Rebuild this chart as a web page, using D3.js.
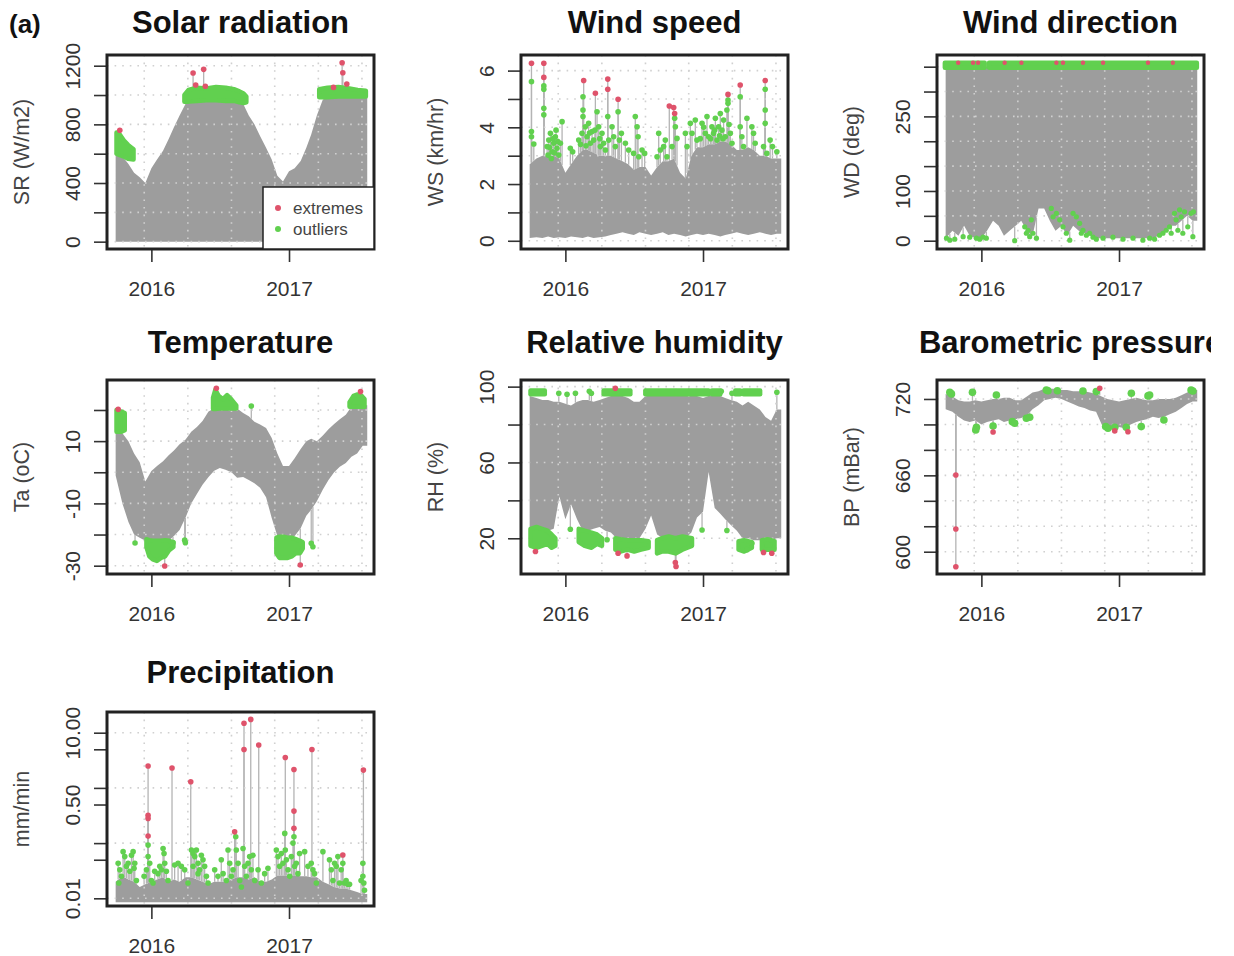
<!DOCTYPE html>
<html>
<head>
<meta charset="utf-8">
<script src="https://cdn.jsdelivr.net/npm/d3@7"></script>
<style>
body { margin: 0; background: #fff; }
text { font-family: "Liberation Sans", Arial, sans-serif; }
</style>
</head>
<body>
<script>
// ---- data ----
// half-month bins, last entry closes the series
var binDates = ["2015-09-28","2015-10-16","2015-11-01","2015-11-16","2015-12-01","2015-12-16","2016-01-01","2016-01-16","2016-02-01","2016-02-16",
  "2016-03-01","2016-03-16","2016-04-01","2016-04-16","2016-05-01","2016-05-16","2016-06-01","2016-06-16","2016-07-01","2016-07-16",
  "2016-08-01","2016-08-16","2016-09-01","2016-09-16","2016-10-01","2016-10-16","2016-11-01","2016-11-16","2016-12-01","2016-12-16",
  "2017-01-01","2017-01-16","2017-02-01","2017-02-16","2017-03-01","2017-03-16","2017-04-01","2017-04-16","2017-05-01","2017-05-16",
  "2017-06-01","2017-06-16","2017-07-01","2017-07-16","2017-07-28"];
var yearTicks = ["2016-01-01", "2017-01-01"];
var gridDates = ["2015-12-13", "2016-04-07", "2016-08-01", "2016-11-24", "2017-03-20", "2017-07-14"];

// solar radiation
var srLow = [0,0,0,0,0,0,0,0,0,0, 0,0,0,0,0,0,0,0,0,0, 0,0,0,0,0,0,0,0,0,0, 0,0,0,0,0,0,0,0,0,0, 0,0,0,0,0];
var srHigh = [620,580,530,470,440,400,500,560,620,700, 780,860,940,960,965,970,970,975,970,965,
  965,955,940,860,800,720,640,560,450,410, 480,500,550,640,730,860,970,985,990,995, 995,995,995,995,995];
var srGreen = [
  [[2015.746,600,745],[2015.77,590,730],[2015.80,580,690],[2015.83,565,660],[2015.87,560,630]],
  [[2016.24,955,1000],[2016.27,955,1035],[2016.33,960,1050],[2016.40,965,1045],[2016.47,965,1055],[2016.54,960,1050],[2016.60,960,1040],[2016.64,950,1025],[2016.67,945,1010],[2016.69,950,990]],
  [[2017.22,985,1040],[2017.28,985,1050],[2017.36,990,1055],[2017.44,990,1045],[2017.50,990,1035],[2017.56,990,1030]]
];
var srOutliers = [];
var srExtremes = [[2015.770,760],[2016.303,1150],[2016.322,1068],[2016.380,1175],[2016.392,1060],[2017.324,1052],[2017.387,1220],[2017.392,1152],[2017.421,1075]];
var srTicks = [0,200,400,600,800,1000,1200];
var srLabels = [0,400,800,1200];

// wind speed
var wsLow = [0.1,0.12,0.1,0.15,0.1,0.12,0.1,0.15,0.12,0.1, 0.15,0.1,0.12,0.15,0.2,0.25,0.3,0.25,0.2,0.3,
  0.25,0.2,0.25,0.3,0.2,0.25,0.2,0.15,0.2,0.25, 0.2,0.25,0.2,0.15,0.2,0.25,0.3,0.25,0.2,0.25, 0.3,0.25,0.2,0.25,0.25];
var wsHigh = [2.7,2.9,3.0,3.0,3.0,2.9,2.4,2.7,3.0,3.2, 3.2,3.1,3.0,3.0,3.0,2.9,2.8,2.7,2.5,2.6,
  2.6,2.3,2.6,2.8,2.8,2.9,2.4,2.2,3.0,3.3, 3.3,3.4,3.4,3.5,3.5,3.4,3.2,3.2,3.3,3.2, 3.0,3.0,2.9,2.9,2.9];
var wsGreen = [];
var wsOutliers = [[2015.753,5.61],[2015.753,3.85],[2015.753,3.67],[2015.770,3.41],
  [2015.843,5.46],[2015.843,5.34],[2015.843,4.67],[2015.843,4.44],
  [2015.867,3.32],[2015.874,3.02],[2015.879,3.55],[2015.891,3.79],[2015.898,2.9],[2015.903,3.14],[2015.915,3.44],[2015.927,3.67],[2015.932,3.9],[2015.939,3.26],[2015.952,3.02],[2015.964,3.44],[2015.976,4.2],
  [2015.885,3.3],[2015.910,3.6],[2015.945,3.5],[2015.920,3.1],
  [2016.036,3.26],[2016.053,3.14],
  [2016.097,3.55],[2016.121,3.79],[2016.128,5.08],[2016.128,4.61],[2016.128,4.38],[2016.145,4.02],[2016.157,3.67],[2016.169,4.14],[2016.182,3.44],[2016.194,3.85],[2016.206,3.55],[2016.230,4.55],[2016.242,4.02],[2016.254,3.32],[2016.266,3.79],[2016.278,3.44],[2016.291,3.2],
  [2016.110,3.4],[2016.150,3.35],[2016.175,3.8],[2016.215,3.9],[2016.250,3.6],
  [2016.308,4.38],[2016.315,3.55],[2016.339,4.02],[2016.351,3.67],[2016.363,3.32],
  [2016.383,4.55],[2016.392,3.55],[2016.407,3.79],
  [2016.436,3.44],[2016.460,3.2],
  [2016.496,3.08],[2016.508,4.38],[2016.521,4.02],[2016.528,3.67],[2016.533,2.96],[2016.557,3.2],[2016.576,3.08],
  [2016.666,2.96],[2016.678,3.79],[2016.690,3.2],[2016.714,3.32],[2016.726,3.55],[2016.738,2.96],
  [2016.775,3.32],[2016.794,4.32],[2016.799,4.02],[2016.811,3.61],
  [2016.872,3.79],[2016.884,3.32],[2016.908,4.14],[2016.920,3.79],[2016.944,4.26],[2016.956,3.55],
  [2016.993,4.14],[2017.017,3.79],[2017.029,4.38],[2017.041,3.67],[2017.065,4.02],[2017.077,3.79],[2017.090,4.32],[2017.102,3.55],[2017.114,4.02],[2017.126,4.49],[2017.138,3.9],[2017.150,4.26],[2017.162,3.67],[2017.174,4.61],[2017.182,4.96],[2017.182,4.85],[2017.199,3.79],[2017.211,3.44],
  [2016.98,3.6],[2017.005,4.0],[2017.055,3.6],[2017.085,3.9],[2017.12,3.7],[2017.145,3.6],[2017.19,4.1],
  [2017.271,5.08],[2017.271,4.02],[2017.283,3.67],[2017.295,3.32],
  [2017.320,4.32],[2017.356,4.02],[2017.368,3.79],[2017.380,3.44],
  [2017.441,3.32],[2017.453,5.34],[2017.453,4.61],[2017.453,4.14],[2017.465,3.08],
  [2017.489,3.55],[2017.506,3.32],[2017.538,3.14]];
var wsExtremes = [[2015.753,6.26],[2015.843,6.26],[2015.843,5.76],[2016.133,5.65],[2016.218,5.2],[2016.308,5.7],[2016.308,5.34],[2016.383,4.99],
  [2016.755,4.75],[2016.787,4.7],[2016.794,4.49],[2017.182,5.16],[2017.271,5.49],[2017.453,5.65]];
var wsTicks = [0,1,2,3,4,5,6];
var wsLabels = [0,2,4,6];

// wind direction
var wdLow = [5,20,10,30,10,5,5,20,40,30, 10,20,30,40,20,10,65,65,40,20, 30,10,30,20,15,10,5,5,5,5, 5,5,5,5,5,5,5,10,20,30, 30,40,50,40,40];
var wdHigh = [350,350,350,350,350,350,350,350,350,350, 350,350,350,350,350,350,350,350,350,350,
  350,350,350,350,350,350,350,350,350,350, 350,350,350,350,350,350,350,350,350,350, 350,350,350,350,350];
var wdGreen = [
  [[2015.734,348,358],[2016.024,348,358]],
  [[2016.056,348,358],[2017.567,348,358]]
];
var wdOutliers = [[2015.746,5],[2015.770,1],[2015.806,3],[2015.867,8],[2015.915,7],[2015.964,5],[2015.988,3],[2016.012,7],[2016.036,5],
  [2016.242,0],[2016.315,28],[2016.327,15],[2016.339,21],[2016.351,8],[2016.363,42],[2016.375,15],[2016.400,5],
  [2016.508,65],[2016.521,48],[2016.545,55],[2016.569,42],[2016.593,28],[2016.617,15],[2016.642,1],[2016.666,55],[2016.690,48],[2016.714,35],
  [2016.726,15],[2016.738,21],[2016.763,11],[2016.787,15],[2016.811,7],[2016.835,3],
  [2016.884,5],[2016.956,7],[2017.029,3],[2017.102,5],[2017.174,1],[2017.223,5],[2017.259,3],[2017.295,11],[2017.320,15],[2017.344,21],[2017.368,28],[2017.380,15],
  [2017.404,55],[2017.416,42],[2017.429,21],[2017.441,62],[2017.453,48],[2017.465,15],[2017.477,58],[2017.501,28],[2017.525,55],[2017.542,58],[2017.538,8]];
var wdExtremes = [[2015.831,358],[2015.939,358],[2015.976,358],[2016.169,358],[2016.291,358],[2016.545,358],[2016.593,358],[2016.738,358],[2016.884,358],[2017.211,358],[2017.392,358]];
var wdTicks = [0,50,100,150,200,250,300,350];
var wdLabels = [0,100,250];

// temperature
var taLow = [-1,-10,-16,-20,-21,-22,-22,-22,-22,-22, -20.5,-18.5,-14.5,-10,-7,-4,-1.5,0.5,1.4,0.8,
  0,-1.8,-1.5,-2.5,-3.5,-5,-8,-14.7,-20.5,-21, -21,-20.5,-18,-14,-12,-9.3,-5.5,-2.5,0,1.8, 3,5,6,8.5,8.5];
var taHigh = [13.7,12.5,10,6,3.2,-3,0.4,2,3.5,5.5, 7,9,10.5,13,14.5,16.5,19.5,20.5,20.5,20.5,
  20.5,20.5,19,18,16.2,15.3,14.2,11,6,2, 2,4.5,7.5,10,10.8,10,11.8,13.8,15.5,17, 18.5,21,21.5,21.5,21.5];
var taGreen = [
  [[2015.746,13,20],[2015.782,13,19.5],[2015.806,13.5,19]],
  [[2015.964,-24,-21.5],[2015.985,-27,-21.8],[2016.01,-28,-22],[2016.04,-28.5,-22],[2016.07,-27.5,-22],[2016.10,-27,-21.8],[2016.13,-25,-22],[2016.16,-24,-22.5]],
  [[2016.448,20.3,24],[2016.465,20.3,26.5],[2016.49,20.5,24.5],[2016.52,20.5,23.5],[2016.55,20.5,24.8],[2016.58,20.5,23.5],[2016.617,20.5,21.5]],
  [[2016.908,-26,-21],[2016.93,-27.5,-20.7],[2016.96,-27.5,-20.7],[2016.99,-27.5,-21],[2017.02,-27,-21],[2017.05,-26,-21.5],[2017.08,-26,-22],[2017.10,-24.5,-22.5]],
  [[2017.441,21,22.5],[2017.47,21,24.5],[2017.50,21,25],[2017.53,21,24.5],[2017.55,21,23.5]]
];
var taOutliers = [[2015.881,-22.7],[2016.157,-22.6],[2016.242,-21.8],[2016.247,-22.6],[2016.726,21.3],[2017.162,-22.8],[2017.174,-23.9]];
var taExtremes = [[2015.758,20.2],[2016.472,27],[2016.097,-30.1],[2017.082,-29.8],[2017.521,25.9]];
var taTicks = [-30,-20,-10,0,10,20];
var taLabels = [-30,-10,10];

// relative humidity
var rhLow = [25,23,24,24,25,42,30,38,30,24, 24,25,26,24,23,20,19,19,20,20, 25,32,22,20,19,19,20,20,23,31,
  34,55,36,33,30,27,24,20,20,19, 19,19,19,20,20];
var rhHigh = [95,94,93,93,92,92,91,90,92,93, 93,92,93,94,95,95,95,94,92,92, 95,95,96,96,96,96,96,96,96,95,
  94,95,95,95,94,93,92,90,92,90, 88,84,82,88,88];
var rhGreen = [
  [[2015.746,96,98],[2015.850,96,98]],
  [[2016.278,96,98],[2016.472,96,98]],
  [[2016.581,96,98],[2016.799,96,98]],
  [[2016.811,96,98],[2017.041,96,98]],
  [[2017.065,96,98],[2017.126,96,98]],
  [[2017.235,96,98],[2017.271,96,98]],
  [[2017.295,96,98],[2017.416,96,98]],
  [[2015.746,16,25],[2015.79,15,26],[2015.83,16,25],[2015.87,17,24],[2015.90,15,22],[2015.927,16,20]],
  [[2016.097,18,25],[2016.14,16,24],[2016.19,15,23],[2016.23,17,22],[2016.266,16,20]],
  [[2016.363,14,20],[2016.40,13,19.5],[2016.45,14,19],[2016.50,13,19],[2016.55,14,19],[2016.605,15,18.5]],
  [[2016.666,12,19],[2016.70,13,20],[2016.75,13,21],[2016.80,12,20],[2016.85,14,21],[2016.92,16,20]],
  [[2017.259,14,18.5],[2017.30,13,19],[2017.356,15,18]],
  [[2017.429,14,19],[2017.47,14,19.5],[2017.521,14,18.5]]
];
var rhOutliers = [[2015.952,96.5],[2016.012,96],[2016.073,96.5],[2016.174,97.5],[2016.189,96.5],[2017.538,97],[2017.133,97.5],[2017.211,96.5],
  [2016.036,24.8],[2016.303,19.2],[2016.993,24.4],[2017.174,24.1],[2017.356,17.4],[2017.320,14]];
var rhExtremes = [[2016.363,99.1],[2015.782,13],[2016.383,12.1],[2016.448,10.7],[2016.799,7.2],[2016.804,5.1],[2017.441,12.5],[2017.501,12.1]];
var rhTicks = [20,40,60,80,100];
var rhLabels = [20,60,100];

// barometric pressure
var bpLow = [712,710,706,703,702,703,700,702,703,704, 702,703,704,705,707,712,715,719,720,721,
  720,718,716,714,713,711,710,700,697,696, 698,697,700,702,703,704,706,705,706,708, 710,713,716,718,718];
var bpHigh = [724,722,719,718,718,719,718,719,720,720, 721,721,719,719,722,725,726,728,728,728,
  727,727,726,726,726,725,724,722,720,719, 718,719,720,721,720,719,719,720,720,720, 721,723,725,727,727];
var bpGreen = [];
var bpOutliers = [[2015.770,725.2],[2015.782,724],[2015.935,725.2],[2016.109,723.1],[2015.964,697.7],[2015.959,695.6],[2016.085,698.8],
  [2016.225,702.2],[2016.242,700.9],[2016.327,704.8],[2016.351,705.6],[2016.472,727.1],[2016.484,726.5],[2016.552,726.5],[2016.738,726.3],
  [2016.835,725.8],[2016.903,698.3],[2016.920,697],[2016.969,697.7],[2017.053,697.7],[2017.090,724.5],[2017.162,698.3],[2017.211,722.4],
  [2017.223,723.1],[2017.327,703.5],[2017.525,727.1],[2017.538,726.3]];
var bpExtremes = [[2016.085,694.1],[2016.860,728.4],[2016.969,694.9],[2017.065,694.3],[2015.814,660.3],[2015.814,617.8],[2015.814,588.2]];
var bpTicks = [600,620,640,660,680,700,720];
var bpLabels = [600,660,720];

// precipitation
var pLow = [0.0085,0.0085,0.0085,0.0085,0.0085,0.0085,0.0085,0.0085,0.0085,0.0085, 0.0085,0.0085,0.0085,0.0085,0.0085,0.0085,0.0085,0.0085,0.0085,0.0085,
  0.0085,0.0085,0.0085,0.0085,0.0085,0.0085,0.0085,0.0085,0.0085,0.0085, 0.0085,0.0085,0.0085,0.0085,0.0085,0.0085,0.0085,0.0085,0.0085,0.0085,
  0.0085,0.0085,0.0085,0.0085,0.0085];
var pHigh = [0.02,0.025,0.022,0.02,0.016,0.018,0.02,0.022,0.024,0.02, 0.022,0.02,0.024,0.024,0.022,0.02,0.018,0.02,0.02,0.02,
  0.022,0.024,0.024,0.022,0.024,0.02,0.02,0.022,0.026,0.026, 0.026,0.026,0.025,0.025,0.024,0.024,0.02,0.018,0.016,0.015,
  0.015,0.014,0.013,0.012,0.012];
var pGreen = [];
var pOutliers = [[2015.758,0.043],[2015.770,0.033],[2015.794,0.07],[2015.806,0.057],[2015.818,0.038],[2015.831,0.043],[2015.843,0.031],[2015.855,0.06],[2015.867,0.07],[2015.879,0.043],[2015.891,0.021],[2015.782,0.025],[2015.763,0.019],[2015.874,0.035],
  [2015.947,0.025],[2015.964,0.033],[2015.976,0.092],[2015.976,0.057],[2015.988,0.043],[2016.0,0.021],[2016.012,0.019],[2016.024,0.031],[2016.048,0.028],[2016.061,0.038],[2016.073,0.033],[2016.085,0.08],[2016.092,0.065],[2016.097,0.043],[2016.109,0.031],[2016.121,0.021],
  [2016.169,0.04],[2016.194,0.043],[2016.218,0.038],[2016.242,0.033],[2016.266,0.019],
  [2016.291,0.075],[2016.303,0.065],[2016.315,0.057],[2016.327,0.075],[2016.339,0.043],[2016.351,0.033],[2016.363,0.06],[2016.375,0.05],[2016.387,0.038],[2016.400,0.025],[2016.412,0.019],[2016.303,0.038],[2016.339,0.028],
  [2016.460,0.033],[2016.484,0.025],[2016.508,0.05],[2016.521,0.028],[2016.545,0.021],[2016.557,0.075],[2016.569,0.043],[2016.581,0.025],[2016.593,0.033],
  [2016.613,0.13],[2016.617,0.075],[2016.630,0.043],[2016.642,0.021],[2016.654,0.016],[2016.666,0.08],[2016.678,0.038],[2016.690,0.025],[2016.702,0.043],[2016.714,0.057],[2016.726,0.033],[2016.738,0.06],[2016.751,0.021],[2016.775,0.033],[2016.799,0.019],[2016.823,0.028],[2016.847,0.035],
  [2016.908,0.075],[2016.920,0.057],[2016.932,0.038],[2016.944,0.065],[2016.956,0.043],[2016.969,0.15],[2016.973,0.075],[2016.981,0.05],[2016.993,0.033],[2017.005,0.025],[2017.017,0.057],[2017.029,0.1],[2017.036,0.13],[2017.041,0.038],[2017.053,0.043],[2017.065,0.028],[2017.077,0.065],
  [2017.114,0.07],[2017.138,0.038],[2017.162,0.043],[2017.174,0.033],[2017.186,0.028],[2017.199,0.019],[2017.247,0.07],
  [2017.295,0.05],[2017.308,0.033],[2017.320,0.021],[2017.332,0.043],[2017.344,0.038],[2017.356,0.057],[2017.368,0.019],[2017.380,0.033],[2017.392,0.043],[2017.404,0.019],[2017.416,0.021],[2017.429,0.018],[2017.441,0.018],
  [2017.525,0.021],[2017.538,0.043],[2017.538,0.025],[2017.545,0.019],[2017.550,0.014]];
var pExtremes = [[2015.976,2.49],[2015.976,0.32],[2015.976,0.28],[2015.976,0.134],[2016.150,2.3],[2016.286,1.29],[2016.605,0.16],[2016.673,14.8],[2016.673,4.97],
  [2016.722,17.4],[2016.780,5.98],[2016.973,3.56],[2017.036,2.16],[2017.036,0.38],[2017.036,0.185],[2017.167,4.97],[2017.392,0.061],[2017.542,2.1]];
var pTicks = [0.01,0.05,0.1,0.5,1,5,10];
var pLabels = [0.01,0.5,10];
var pGrid = [0.01,0.1,1,10];

// ---- layout ----
var colX = [107, 521, 937];
var rowY = [55, 380, 712];
var titleY = [33, 353, 683];
var boxW = 267, boxH = 194;

var greyCol = "#9d9d9d";
var greenCol = "#61D04F";
var redCol = "#DF536B";
var inkCol = "#333";

var parseDate = d3.timeParse("%Y-%m-%d");
var dates = binDates.map(parseDate);

function yearToDate(t) {
    var yr = Math.floor(t);
    var s = new Date(yr, 0, 1), e = new Date(yr + 1, 0, 1);
    return new Date(+s + (t - yr) * (e - s));
}

var x = d3.scaleTime()
            .domain([new Date(2015, 8, 5), new Date(2017, 7, 15)])
            .range([0, boxW]);

var panels = [
    {title: "Solar radiation", ylab: "SR (W/m2)", col: 0, row: 0, low: srLow, high: srHigh, green: srGreen, outl: srOutliers, ext: srExtremes,
     y: d3.scaleLinear().domain([-50, 1273]), ticks: srTicks, labels: srLabels, grid: srTicks, r: 2.8},
    {title: "Wind speed", ylab: "WS (km/hr)", col: 1, row: 0, low: wsLow, high: wsHigh, green: wsGreen, outl: wsOutliers, ext: wsExtremes,
     y: d3.scaleLinear().domain([-0.29, 6.55]), ticks: wsTicks, labels: wsLabels, grid: wsTicks, r: 2.8},
    {title: "Wind direction", ylab: "WD (deg)", col: 2, row: 0, low: wdLow, high: wdHigh, green: wdGreen, outl: wdOutliers, ext: wdExtremes,
     y: d3.scaleLinear().domain([-16.7, 373.5]), ticks: wdTicks, labels: wdLabels, grid: wdTicks, r: 2.6},
    {title: "Temperature", ylab: "Ta (oC)", col: 0, row: 1, low: taLow, high: taHigh, green: taGreen, outl: taOutliers, ext: taExtremes,
     y: d3.scaleLinear().domain([-32.67, 29.63]), ticks: taTicks, labels: taLabels, grid: taTicks, r: 2.8},
    {title: "Relative humidity", ylab: "RH (%)", col: 1, row: 1, low: rhLow, high: rhHigh, green: rhGreen, outl: rhOutliers, ext: rhExtremes,
     y: d3.scaleLinear().domain([1.16, 103.5]), ticks: rhTicks, labels: rhLabels, grid: rhTicks, r: 2.8},
    {title: "Barometric pressure", ylab: "BP (mBar)", col: 2, row: 1, low: bpLow, high: bpHigh, green: bpGreen, outl: bpOutliers, ext: bpExtremes,
     y: d3.scaleLinear().domain([582.5, 734.9]), ticks: bpTicks, labels: bpLabels, grid: bpTicks, r: 3.8},
    {title: "Precipitation", ylab: "mm/min", col: 0, row: 2, low: pLow, high: pHigh, green: pGreen, outl: pOutliers, ext: pExtremes,
     y: d3.scaleLog().domain([0.00726, 23.7]), ticks: pTicks, labels: pLabels, grid: pGrid, r: 2.8, fmt: d3.format(".2f")}
];

var svg = d3.select("body")
            .append("svg")
            .attr("width", 1234)
            .attr("height", 956);

var defs = svg.append("defs");
defs.append("clipPath").attr("id", "figClip")
    .append("rect").attr("x", 0).attr("y", 0).attr("width", 1211).attr("height", 956);
defs.append("clipPath").attr("id", "boxClip")
    .append("rect").attr("x", 0).attr("y", 0).attr("width", boxW).attr("height", boxH);

svg.append("text")
    .attr("x", 9)
    .attr("y", 33)
    .attr("font-size", 26)
    .attr("font-weight", "bold")
    .attr("fill", "#111")
    .text("(a)");

var bisectDate = d3.bisector(function(d) { return d; }).right;

function envelopeAt(p, d) {
    var i = bisectDate(dates, d);
    if (i <= 0) return {lo: p.low[0], hi: p.high[0]};
    if (i >= dates.length) return {lo: p.low[dates.length - 1], hi: p.high[dates.length - 1]};
    var f = (d - dates[i - 1]) / (dates[i] - dates[i - 1]);
    return {lo: p.low[i - 1] + f * (p.low[i] - p.low[i - 1]),
            hi: p.high[i - 1] + f * (p.high[i] - p.high[i - 1])};
}

panels.forEach(function(p) {
    var g = svg.append("g")
                .attr("transform", "translate(" + colX[p.col] + "," + rowY[p.row] + ")");
    var y = p.y.range([boxH, 0]);

    var series = dates.map(function(d, i) { return {date: d, lo: p.low[i], hi: p.high[i]}; });
    var plot = g.append("g").attr("clip-path", "url(#boxClip)");

    // grey envelope of the raw series
    plot.append("path")
        .datum(series)
        .attr("d", d3.area()
                    .x(function(d) { return x(d.date); })
                    .y0(function(d) { return y(d.lo); })
                    .y1(function(d) { return y(d.hi); }))
        .attr("fill", greyCol);

    // thin connecting lines from the envelope to flagged points
    var flagged = p.outl.concat(p.ext);
    flagged.forEach(function(pt) {
        var d = yearToDate(pt[0]);
        var e = envelopeAt(p, d);
        var from = null;
        if (pt[1] > e.hi) from = e.hi;
        else if (pt[1] < e.lo) from = e.lo;
        if (from === null) return;
        plot.append("line")
            .attr("x1", x(d)).attr("x2", x(d))
            .attr("y1", y(from)).attr("y2", y(pt[1]))
            .attr("stroke", "#b4b4b4")
            .attr("stroke-width", 1.3);
    });

    // dotted grid
    gridDates.forEach(function(s) {
        plot.append("line")
            .attr("x1", x(parseDate(s))).attr("x2", x(parseDate(s)))
            .attr("y1", 0).attr("y2", boxH)
            .attr("stroke", "#d0d0d0").attr("stroke-width", 1.6)
            .attr("stroke-dasharray", "1.6,6");
    });
    p.grid.forEach(function(v) {
        plot.append("line")
            .attr("x1", 0).attr("x2", boxW)
            .attr("y1", y(v)).attr("y2", y(v))
            .attr("stroke", "#d0d0d0").attr("stroke-width", 1.6)
            .attr("stroke-dasharray", "1.6,6");
    });

    // dense outlier clusters
    p.green.forEach(function(seg) {
        plot.append("path")
            .datum(seg)
            .attr("d", d3.area()
                        .x(function(d) { return x(yearToDate(d[0])); })
                        .y0(function(d) { return y(d[1]); })
                        .y1(function(d) { return y(d[2]); }))
            .attr("fill", greenCol)
            .attr("stroke", greenCol)
            .attr("stroke-width", 4.5)
            .attr("stroke-linejoin", "round");
    });

    plot.selectAll("circle.outl")
        .data(p.outl)
        .enter()
        .append("circle")
        .attr("class", "outl")
        .attr("cx", function(d) { return x(yearToDate(d[0])); })
        .attr("cy", function(d) { return y(d[1]); })
        .attr("r", p.r)
        .attr("fill", greenCol);

    plot.selectAll("circle.ext")
        .data(p.ext)
        .enter()
        .append("circle")
        .attr("class", "ext")
        .attr("cx", function(d) { return x(yearToDate(d[0])); })
        .attr("cy", function(d) { return y(d[1]); })
        .attr("r", p.col === 2 && p.row === 0 ? 2.2 : 2.8)
        .attr("fill", redCol);

    // axes
    var xAxis = g.append("g")
                .attr("transform", "translate(0," + boxH + ")")
                .call(d3.axisBottom(x)
                        .tickValues(yearTicks.map(parseDate))
                        .tickFormat(d3.timeFormat("%Y"))
                        .tickSize(13)
                        .tickSizeOuter(0)
                        .tickPadding(19));
    var fmt = p.fmt || function(v) { return String(v); };
    var yAxis = g.append("g")
                .call(d3.axisLeft(y)
                        .tickValues(p.ticks)
                        .tickSize(13)
                        .tickSizeOuter(0)
                        .tickFormat(function(v) { return p.labels.indexOf(v) >= 0 ? fmt(v) : ""; }));
    [xAxis, yAxis].forEach(function(a) {
        a.select(".domain").remove();
        a.selectAll("line").attr("stroke", inkCol).attr("stroke-width", 1.6);
        a.selectAll("text")
            .attr("font-size", 21)
            .attr("fill", inkCol)
            .attr("font-family", "'Liberation Sans', Arial, sans-serif");
    });
    yAxis.selectAll("text")
        .attr("transform", "rotate(-90)")
        .attr("x", 0)
        .attr("y", -34)
        .attr("dy", "0.35em")
        .attr("text-anchor", "middle");

    // frame
    g.append("rect")
        .attr("width", boxW)
        .attr("height", boxH)
        .attr("fill", "none")
        .attr("stroke", "#222")
        .attr("stroke-width", 3);

    // labels
    g.append("text")
        .attr("transform", "translate(-86," + (boxH / 2) + ") rotate(-90)")
        .attr("dy", "0.35em")
        .attr("text-anchor", "middle")
        .attr("font-size", 21.5)
        .attr("fill", "#444")
        .text(p.ylab);

    svg.append("text")
        .attr("clip-path", "url(#figClip)")
        .attr("x", colX[p.col] + boxW / 2)
        .attr("y", titleY[p.row])
        .attr("text-anchor", "middle")
        .attr("font-size", 31)
        .attr("font-weight", "bold")
        .attr("fill", "#111")
        .text(p.title);

    if (p.col === 0 && p.row === 0) {
        var lg = g.append("g").attr("transform", "translate(156,132)");
        lg.append("rect")
            .attr("width", 111).attr("height", 62)
            .attr("fill", "#fff")
            .attr("stroke", "#222").attr("stroke-width", 1.5);
        [["extremes", redCol], ["outliers", greenCol]].forEach(function(item, i) {
            lg.append("circle")
                .attr("cx", 15).attr("cy", 21 + i * 21)
                .attr("r", 3).attr("fill", item[1]);
            lg.append("text")
                .attr("x", 30).attr("y", 21 + i * 21)
                .attr("dy", "0.35em")
                .attr("font-size", 17)
                .attr("fill", "#444")
                .text(item[0]);
        });
    }
});
</script>
</body>
</html>
